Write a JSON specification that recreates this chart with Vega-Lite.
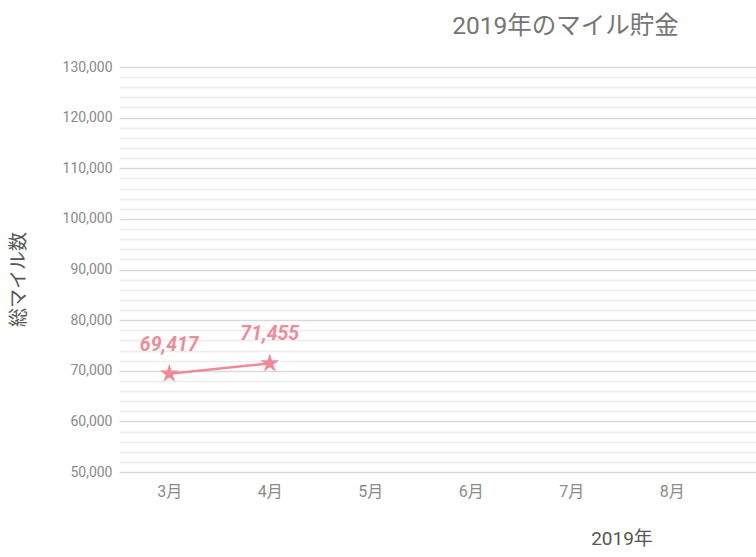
{
  "$schema": "https://vega.github.io/schema/vega-lite/v6.json",
  "autosize": {"type": "none"},
  "padding": {"left": 119, "top": 67, "right": 5, "bottom": 85},
  "width": 1005,
  "height": 405,
  "title": {"text": "2019年のマイル貯金", "fontSize": 24.5, "color": "#757575", "fontWeight": "normal", "offset": 22, "anchor": "middle", "dx": -56, "dy": 1},
  "data": {"values": [
    {"month": "3月", "miles": 69417},
    {"month": "4月", "miles": 71455}
  ]},
  "encoding": {
    "x": {
      "field": "month", "type": "ordinal",
      "scale": {"type": "point", "padding": 0.5, "domain": ["3月","4月","5月","6月","7月","8月","9月","10月","11月","12月"]},
      "axis": {"title": "2019年", "labelAngle": 0, "labelFontSize": 16, "labelColor": "#8a8a8a", "labelPadding": 11, "ticks": false, "domain": false, "grid": false, "titleFontSize": 19, "titleColor": "#555555", "titleFontWeight": "normal", "titlePadding": 30}
    },
    "y": {
      "field": "miles", "type": "quantitative",
      "scale": {"domain": [50000, 130000], "nice": false, "zero": false},
      "axis": {
        "title": "総マイル数", "tickCount": 40, "labelOverlap": false,
        "labelExpr": "datum.value % 10000 === 0 ? format(datum.value, ',') : ''",
        "gridColor": {"condition": {"test": "datum.value % 10000 === 0", "value": "#d9d9d9"}, "value": "#ececec"},
        "gridWidth": 1.5,
        "labelFontSize": 14, "labelColor": "#8a8a8a", "labelPadding": 7,
        "ticks": false, "domain": false,
        "titleFontSize": 19, "titleColor": "#555555", "titleFontWeight": "normal", "titlePadding": 34, "titleY": 212
      }
    }
  },
  "layer": [
    {"mark": {"type": "line", "color": "#ee8b98", "strokeWidth": 2.5}},
    {"mark": {"type": "point", "shape": "M0,-1L0.225,-0.309L0.951,-0.309L0.363,0.118L0.588,0.809L0,0.382L-0.588,0.809L-0.363,0.118L-0.951,-0.309L-0.225,-0.309Z", "filled": true, "size": 400, "color": "#ee8b98", "opacity": 1}},
    {"mark": {"type": "text", "dy": -29, "fontSize": 19.5, "fontWeight": "bold", "fontStyle": "italic", "color": "#ee8b98"},
     "encoding": {"text": {"field": "miles", "type": "quantitative", "format": ","}}}
  ],
  "config": {"view": {"stroke": null}, "font": "Roboto, Noto Sans CJK JP"}
}
